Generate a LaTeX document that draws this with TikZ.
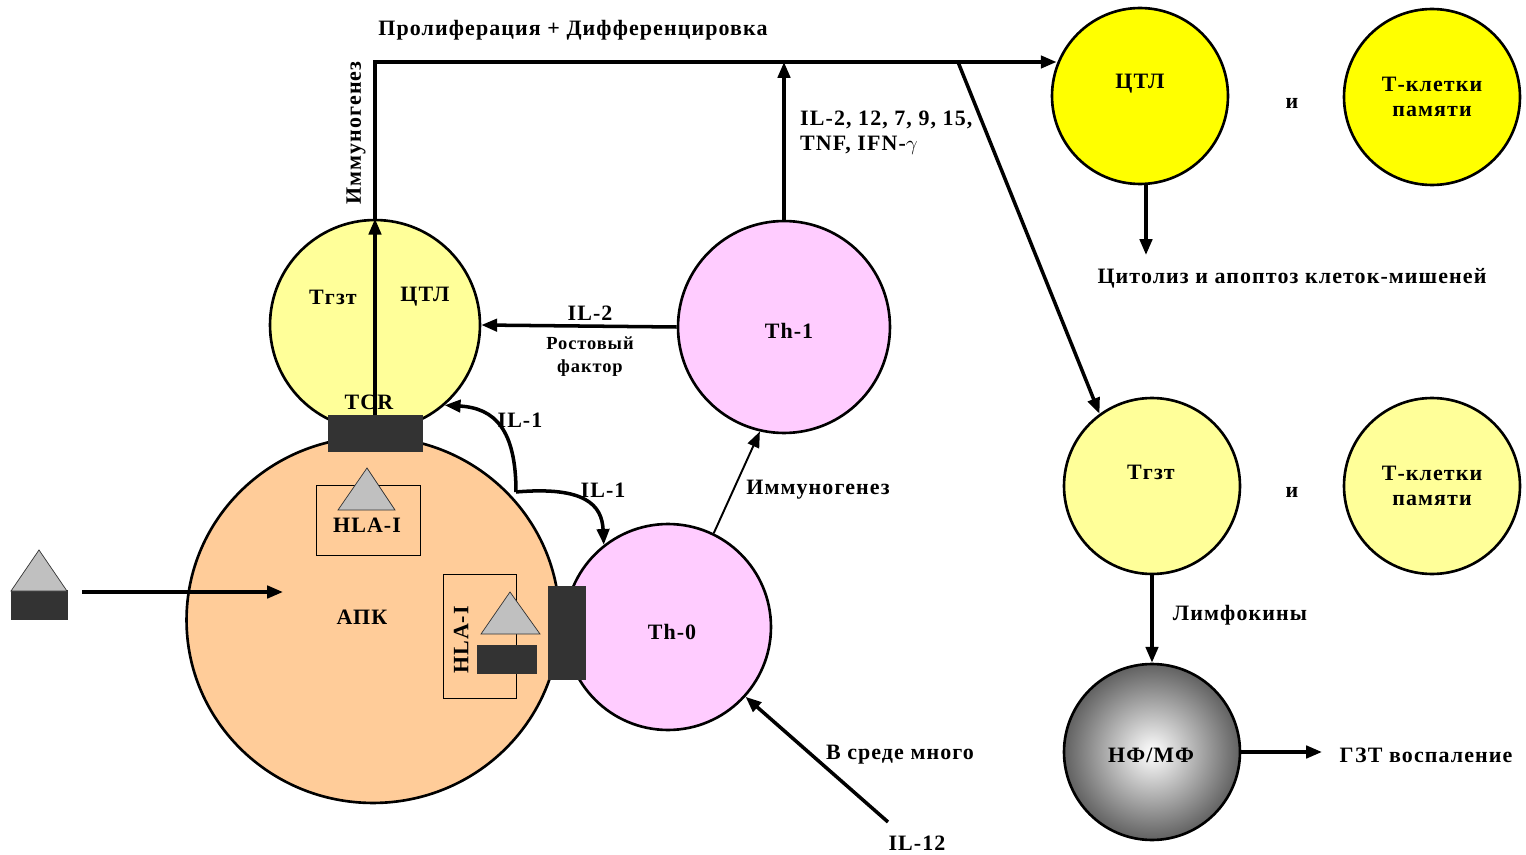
\documentclass[tikz,border=0pt]{standalone}
\usepackage{fontspec}
\setmainfont{Liberation Serif}[LetterSpace=5]
\usetikzlibrary{arrows.meta,shapes.geometric}
\definecolor{paleyellow}{HTML}{FFFF99}
\definecolor{brightyellow}{HTML}{FFFF00}
\definecolor{thpink}{HTML}{FFCCFF}
\definecolor{apcorange}{HTML}{FFCC99}
\definecolor{recepgray}{HTML}{333333}
\definecolor{antigray}{HTML}{C0C0C0}
\begin{document}
\begin{tikzpicture}[x=0.02cm,y=-0.02cm,
  every node/.style={font=\fontsize{12.5}{14.5}\selectfont\bfseries},
  cell/.style={circle,draw,line width=1.5pt,inner sep=0pt,minimum size=3.52cm},
  recep/.style={rectangle,fill=recepgray,draw=recepgray,inner sep=0pt},
  hlabox/.style={rectangle,draw,line width=0.5pt,inner sep=0pt},
  antigen/.style={fill=antigray,draw=recepgray,line width=0.4pt},
  flow/.style={line width=2pt,-{Triangle[length=9pt,width=7pt]}},
  small/.style={font=\fontsize{10.5}{13}\selectfont\bfseries,align=center}]
\useasboundingbox (0,0) rectangle (1526,855);
% cells
\node[ellipse,draw,line width=1.5pt,fill=apcorange,minimum width=7.46cm,minimum height=7.32cm] (apc) at (373,620) {};
\node[cell,fill=paleyellow,minimum size=4.2cm] (tc) at (375,325) {};
\node[cell,fill=thpink,minimum size=4.12cm] (th0) at (668,627) {};
\node[cell,fill=thpink,minimum size=4.24cm] (th1) at (784,327) {};
\node[cell,fill=brightyellow] (ctl) at (1140,96) {};
\node[cell,fill=brightyellow] (mem1) at (1432,97) {};
\node[cell,fill=paleyellow] (tgzt) at (1152,486) {};
\node[cell,fill=paleyellow] (mem2) at (1432,486) {};
\node[cell,shading=radial,inner color=white,outer color=black!62] (nfmf) at (1152,752) {};
% receptors and antigens
\node[recep,minimum width=1.88cm,minimum height=0.72cm] (tcr) at (375,433) {};
\node[recep,minimum width=0.74cm,minimum height=1.86cm] (rec0) at (567,633) {};
\node[hlabox,minimum width=2.08cm,minimum height=1.4cm] (hla1) at (368,520) {};
\node[hlabox,minimum width=1.46cm,minimum height=2.48cm] (hla2) at (480,636) {};
\node[recep,minimum width=1.18cm,minimum height=0.56cm] (pep2) at (507,659) {};
\node[recep,minimum width=1.12cm,minimum height=0.58cm] (agbox) at (39,605) {};
\filldraw[antigen] (338,510) -- (367,468) -- (395,510) -- cycle;
\filldraw[antigen] (481,634) -- (510,592) -- (540,634) -- cycle;
\filldraw[antigen] (11,591) -- (39,550) -- (67,591) -- cycle;
% texts
\node (title) at (573,30) {Пролиферация + Дифференцировка};
\node[rotate=90] (immtop) at (356,133) {Иммуногенез};
\node (tctxt) at (333,297) {Тгзт};
\node (ctltxt) at (425,297) {ЦТЛ};
\node (tcrtxt) at (369,402) {TCR};
\node (hla1txt) at (367,525) {HLA-I};
\node[rotate=90] (hla2txt) at (461,640) {HLA-I};
\node (apctxt) at (362,617) {АПК};
\node (th0txt) at (672,632) {Th-0};
\node (th1txt) at (789,331) {Th-1};
\node (il2) at (590,313) {IL-2};
\node[small] (growth) at (590,357) {Ростовый\\фактор};
\node[align=left,anchor=west] (cyto) at (794,133) {IL-2, 12, 7, 9, 15,\\TNF, IFN-$\gamma$};
\node (il1a) at (520,420) {IL-1};
\node (il1b) at (603,490) {IL-1};
\node (immmid) at (818,490) {Иммуногенез};
\node (milieu) at (900,755) {В среде много};
\node (il12) at (917,843) {IL-12};
\node (ctlr) at (1140,84) {ЦТЛ};
\node (and1) at (1292,103) {и};
\node[align=center] (memtxt1) at (1432,97) {Т-клетки\\памяти};
\node (lysis) at (1292,278) {Цитолиз и апоптоз клеток-мишеней};
\node (tgztr) at (1151,472) {Тгзт};
\node (and2) at (1292,492) {и};
\node[align=center] (memtxt2) at (1432,486) {Т-клетки\\памяти};
\node (lymph) at (1240,615) {Лимфокины};
\node (nfmftxt) at (1151,755) {НФ/МФ};
\node (dth) at (1426,755) {ГЗТ воспаление};
% connectors
\coordinate (corner) at (375,62);
\coordinate (split) at (958,62);
\coordinate (agtip) at (283,592);
\coordinate (lystip) at (1146,255);
\coordinate (dthtip) at (1322,752);
\coordinate (il12src) at (888,822);
\coordinate (il1src) at (516,492);
\draw[flow] (tcr.north) -- (tc.north);
\draw[flow] (tc.north) -- (corner) -- (corner -| ctl.159);
\draw[flow] (th1.north) -- (th1.north |- corner);
\draw[flow] (split) -- (tgzt.126);
\draw[flow] (th1.west) -- (tc.east);
\draw[flow,line width=1.1pt] (th0.64) -- (th1.257);
\draw[flow] (il12src) -- (th0.-42);
\draw[flow] ([xshift=0.3cm]agbox.east |- agtip) -- (agtip);
\draw[flow] (il1src) .. controls (516,430) and (495,408) .. (tc.-49);
\draw[flow] (il1src) .. controls (585,486) and (602,505) .. (th0.128);
\draw[flow] (ctl.south -| lystip) -- (lystip);
\draw[flow] (tgzt.south) -- (nfmf.north);
\draw[flow] (nfmf.east) -- (dthtip);
\end{tikzpicture}
\end{document}
